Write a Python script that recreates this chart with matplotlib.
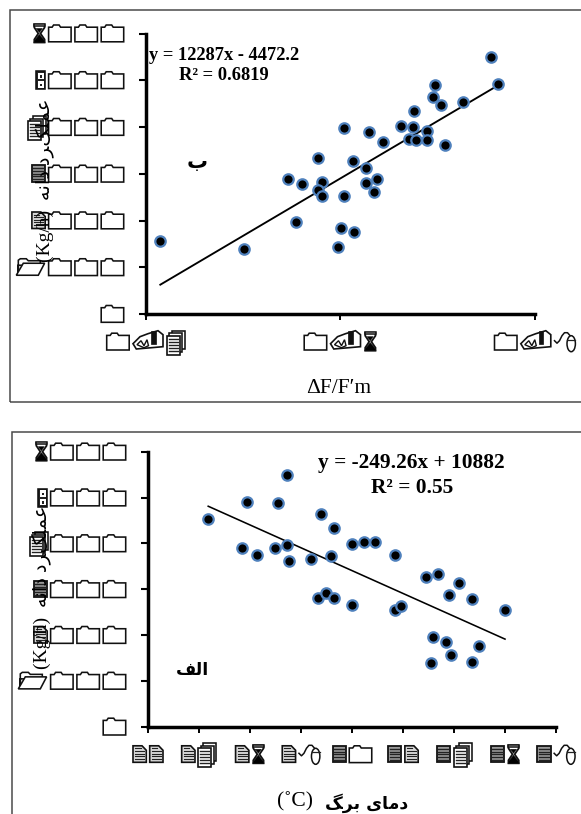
"""Two scatter panels with trend lines; tick labels were set in Wingdings in the source."""
import matplotlib

matplotlib.use("Agg")
import matplotlib.pyplot as plt
import numpy as np
from matplotlib.patches import Ellipse, Polygon, Rectangle
from matplotlib.transforms import IdentityTransform

W, H = 581, 814
SERIF = ["Liberation Serif", "DejaVu Sans"]
BLUE = "#4f81bd"

# upper panel (ب)
top_x = [0.755, 0.762, 0.697, 0.695, 0.703, 0.726, 0.676, 0.662, 0.675, 0.689, 0.671, 0.678,
         0.689, 0.708, 0.604, 0.629, 0.644, 0.577, 0.613, 0.626, 0.626, 0.638, 0.635, 0.581,
         0.577, 0.581, 0.604, 0.561, 0.546, 0.554, 0.601, 0.614, 0.598, 0.415, 0.501]
top_y = [5497, 4910, 4897, 4647, 4469, 4525, 4340, 4026, 4004, 3925, 3754, 3732,
         3726, 3619, 3976, 3897, 3677, 3340, 3270, 3126, 2812, 2891, 2619, 2820,
         2662, 2533, 2533, 2790, 2884, 1964, 1842, 1756, 1428, 1557, 1392]
top_slope, top_intercept = 12287, -4472.2
top_xticks = [0.4, 0.6, 0.8]
top_xlabels = ["0.4", "0.6", "0.8"]

# lower panel (الف)
low_x = [24.36, 25.88, 27.08, 27.46, 25.67, 26.27, 26.98, 27.46, 27.54, 28.77, 29.28, 29.98,
         30.48, 30.90, 31.68, 29.17, 28.38, 32.88, 33.38, 34.20, 33.78, 34.68, 28.67, 28.98,
         29.28, 29.98, 31.68, 31.90, 35.99, 33.18, 33.68, 34.98, 33.89, 34.68, 33.09]
low_y = [4525, 4903, 4888, 5486, 3906, 3740, 3906, 3971, 3616, 4641, 4336, 3987,
         4037, 4024, 3747, 3731, 3666, 3266, 3338, 3129, 2874, 2780, 2802, 2911,
         2802, 2662, 2546, 2634, 2546, 1957, 1842, 1754, 1564, 1418, 1390]
low_slope, low_intercept = -249.26, 10882
low_xticks = [22, 24, 26, 28, 30, 32, 34, 36, 38]
low_xlabels = ["22", "24", "26", "28", "30", "32", "34", "36", "38"]

yticks = [0, 1000, 2000, 3000, 4000, 5000, 6000]
ylabels = ["0", "1000", "2000", "3000", "4000", "5000", "6000"]

# Persian strings in visual order with presentation forms, matplotlib does no shaping
YIELD_FA = "\ufeea\ufee7\ufe8d\ufea9 \ufea9\ufeae\ufb8f\ufee0\ufee4\ufecb"  # عملکرد دانه
LEAF_TEMP_FA = "\ufb93\ufeae\ufe91 \ufbfc\ufe8e\ufee3\ufea9"  # دمای برگ
PANEL_A = "\ufed2\ufedf\ufe8d"  # الف
PANEL_B = "\ufe8f"  # ب

fig = plt.figure(figsize=(W / 100, H / 100), dpi=100, facecolor="white")


def poly(x0, yc, pts, fc="white", lw=1.15):
    pts = [(x0 + u, yc + v) for u, v in pts]
    fig.add_artist(Polygon(pts, closed=True, fc=fc, ec="#111111", lw=lw, transform=IdentityTransform(), zorder=5))


def hline(x0, yc, u0, u1, v, lw=0.8):
    fig.add_artist(plt.Line2D([x0 + u0, x0 + u1], [yc + v, yc + v], color="#222222", lw=lw,
                              transform=IdentityTransform(), zorder=6))


def g_folder(x, y):
    poly(x, y, [(0, -8.3), (22.5, -8.3), (22.5, 6.3), (12, 6.3), (10.5, 8.5), (5, 8.5), (3.5, 6.3), (0, 6.3)])


def g_open(x, y):
    poly(x, y, [(2, -8), (2, 7), (4, 8.5), (10, 8.5), (12, 6.5), (24, 6.5), (24, 2), (2, 2)])
    poly(x, y, [(0, -8), (22, -8), (28.3, 4), (7, 4)])


def g_page(x, y):
    poly(x, y, [(0, -8), (13.3, -8), (13.3, 4), (9, 8.5), (0, 8.5)], fc="#d8d8d8", lw=1.2)
    for v in (3.5, 0.8, -1.9, -4.6):
        hline(x, y, 2, 11.3, v)
    hline(x, y, 2, 7.5, 6)


def g_lines(x, y):
    poly(x, y, [(0, -8), (13.3, -8), (13.3, 8.5), (0, 8.5)], fc="#9a9a9a", lw=1.3)
    for v in (5.5, 2.7, 0, -2.7, -5.5):
        hline(x, y, 1.5, 11.8, v, lw=1.0)


def g_stack(x, y):
    poly(x, y, [(5, -7), (18, -7), (18, 11), (5, 11)])
    poly(x, y, [(2.5, -10), (15.5, -10), (15.5, 8.5), (2.5, 8.5)])
    poly(x, y, [(0, -13), (13, -13), (13, 6), (0, 6)], lw=1.2)
    for v in (3, 0, -3, -6, -9):
        hline(x, y, 2, 11, v, lw=1.0)


def g_cabinet(x, y):
    poly(x, y, [(0, -9), (9.3, -9), (9.3, 9), (0, 9)], fc="#222222")
    poly(x, y, [(1.7, 1), (7.6, 1), (7.6, 7.5), (1.7, 7.5)], fc="white", lw=0)
    poly(x, y, [(1.7, -7.5), (7.6, -7.5), (7.6, -1), (1.7, -1)], fc="white", lw=0)
    poly(x, y, [(3.5, 2.5), (5.8, 2.5), (5.8, 5), (3.5, 5)], fc="#222222", lw=0)
    poly(x, y, [(3.5, -6), (5.8, -6), (5.8, -3.5), (3.5, -3.5)], fc="#222222", lw=0)


def g_hourglass(x, y):
    poly(x, y, [(1, 9), (11, 9), (11.3, 6), (7.2, 0), (11.3, -6), (11.3, -9), (1, -9), (1, -6), (5, 0), (1, 6)], lw=1.3)
    poly(x, y, [(6.1, -1), (10.6, -6.5), (11.8, -9), (0.5, -9), (1.6, -6.5)], fc="black", lw=0.5)
    poly(x, y, [(3, 5), (9, 5), (6.1, 1)], fc="black", lw=0.4)
    poly(x, y, [(0.8, 7.5), (11.4, 7.5), (11.4, 9.5), (0.8, 9.5)], fc="white", lw=1.1)


def g_mailbox(x, y):
    poly(x, y, [(0, -2), (7, 5), (15, 8), (25, 11), (30, 7), (30, -5), (3.3, -7.3)], lw=1.2)
    poly(x, y, [(18, -2), (22.5, -2), (22.5, 11), (18, 11)], fc="#111111", lw=0.5)
    poly(x, y, [(4, -3), (8, 1), (11, -4), (14, 2), (15.5, -4), (11, -6)], lw=1.0)


def g_mouse(x, y):
    fig.add_artist(plt.Line2D([x, x + 2.5, x + 5, x + 7.5, x + 10, x + 13, x + 16.5],
                              [y + 1, y - 1.5, y + 1, y + 6, y + 9, y + 9, y + 5],
                              color="#111111", lw=1.1, transform=IdentityTransform(), zorder=5))
    fig.add_artist(Ellipse((x + 16.7, y - 2), 8.4, 16, fc="white", ec="#111111", lw=1.1,
                           transform=IdentityTransform(), zorder=5))
    hline(x, y, 12.8, 20.6, 2, lw=0.9)


# ink width, gap to the next sign, drawing function
GLYPHS = {
    "0": (22.5, 3.8, g_folder),
    "1": (28.3, 4.0, g_open),
    "2": (13.3, 3.4, g_page),
    "3": (13.3, 3.4, g_lines),
    "4": (18.0, 3.0, g_stack),
    "5": (9.3, 3.3, g_cabinet),
    "6": (12.3, 3.0, g_hourglass),
    "8": (21.0, 3.0, g_mouse),
    ".": (31.0, 2.7, g_mailbox),
}


def wing_label(s, x, y, anchor):
    """Draw a number as the Wingdings signs the source shows; none of the fonts has them."""
    total = sum(GLYPHS[c][0] for c in s) + sum(GLYPHS[c][1] for c in s[:-1])
    pos = x - total if anchor == "right" else x - total / 2
    for c in s:
        ink, gap, draw = GLYPHS[c]
        draw(pos, y)
        pos += ink + gap


def panel(box, xs, ys, slope, intercept, xlim, xticks, xlabels, right_edge, xlab_y, line_w):
    left, right, ytop, ybot = box
    ax = fig.add_axes([left / W, 1 - ybot / H, (right - left) / W, (ybot - ytop) / H])
    ax.set_xlim(*xlim)
    ax.set_ylim(0, 6000)
    ax.patch.set_alpha(0)
    for name in ("top", "right"):
        ax.spines[name].set_visible(False)
    for name in ("left", "bottom"):
        ax.spines[name].set_linewidth(2.5)
    ax.set_xticks(xticks)
    ax.set_yticks(yticks)
    ax.set_xticklabels([])
    ax.set_yticklabels([])
    ax.tick_params(axis="y", length=5, width=1.5, direction="out")
    ax.tick_params(axis="x", length=4.5, width=1.4, direction="out")
    # trend ends at the outermost points
    line_x = np.array([min(xs), max(xs)])
    ax.plot(line_x, slope * line_x + intercept, color="black", lw=line_w, zorder=2, clip_on=False)
    ax.plot(xs, ys, ls="none", marker="o", ms=7.5, mfc="black", mec=BLUE, mew=1.6, zorder=3, clip_on=False)
    for val, lab in zip(yticks, ylabels):
        wing_label(lab, right_edge, ax.transData.transform((xlim[0], val))[1], "right")
    for val, lab in zip(xticks, xlabels):
        wing_label(lab, ax.transData.transform((val, 0))[0], H - xlab_y, "center")
    return ax


def ptext(x, y, s, **kw):
    fig.text(x / W, 1 - y / H, s, ha="center", va="center", color="black", zorder=7, **kw)


# outer frames run off the right and bottom of the image
frame = dict(fc="none", ec="#4a4a4a", lw=1.1, transform=IdentityTransform())
fig.add_artist(Rectangle((10, H - 401.5), W, 392, **frame))
fig.add_artist(Rectangle((12, -10), W, H - 432 + 10, **frame))

panel((145.7, 535, 33.5, 314), top_x, top_y, top_slope, top_intercept, (0.4, 0.8),
      top_xticks, top_xlabels, 123.7, 341.7, 1.35)
panel((148, 556.3, 451.7, 726.7), low_x, low_y, low_slope, low_intercept, (22, 38),
      low_xticks, low_xlabels, 125.7, 754.3, 1.15)

ptext(224, 55, "y = 12287x - 4472.2", fontsize=13.3, fontweight="bold", family=SERIF)
ptext(224, 76, "R² = 0.6819", fontsize=13.3, fontweight="bold", family=SERIF)
ptext(411, 463, "y = -249.26x + 10882", fontsize=15.4, fontweight="bold", family=SERIF)
ptext(412, 488, "R² = 0.55", fontsize=15.4, fontweight="bold", family=SERIF)

ptext(197, 162, PANEL_B, fontsize=15, fontweight="bold", family="DejaVu Sans")
ptext(192, 670, PANEL_A, fontsize=12.5, fontweight="bold", family="DejaVu Sans")

ptext(339, 388, "ΔF/F′m", fontsize=15.5, family=SERIF)
ptext(295, 802, "(˚C)", fontsize=15.5, family=SERIF)
ptext(367, 803, LEAF_TEMP_FA, fontsize=12.5, fontweight="bold", family="DejaVu Sans")

ylab = "(Kg/h)  " + YIELD_FA
ptext(45, 180.5, ylab, fontsize=14, rotation=90, family=SERIF)
ptext(42, 587.5, ylab, fontsize=14, rotation=90, family=SERIF)

fig.savefig("out.png", dpi=100, facecolor="white")
